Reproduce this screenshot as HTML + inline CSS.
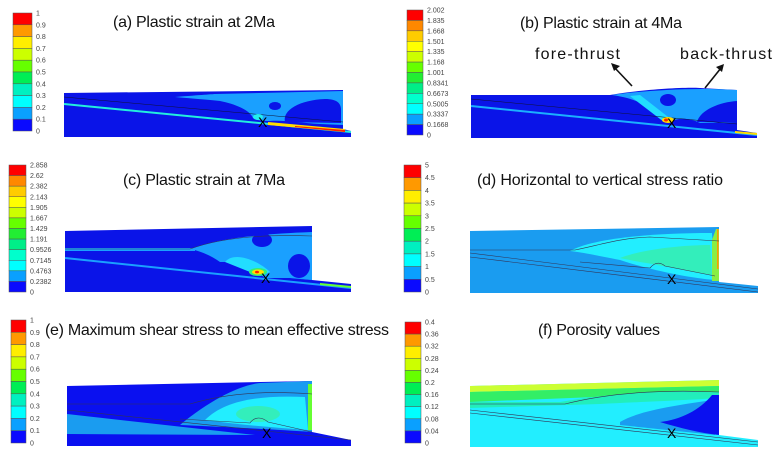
<!DOCTYPE html>
<html><head><meta charset="utf-8"><style>
html,body{margin:0;padding:0;background:#fff;}
svg{display:block;font-family:"Liberation Sans",sans-serif;}
.t{font-size:16px;fill:#111;}
.tk{font-size:7px;fill:#444;}
</style></head><body>
<svg id="fig" width="781" height="456" viewBox="0 0 781 456">
<g id="bars"></g>

<text class="t" x="113" y="27" textLength="162">(a) Plastic strain at 2Ma</text>
<text class="t" x="520" y="28" textLength="162">(b) Plastic strain at 4Ma</text>
<text class="t" x="123" y="185" textLength="162">(c) Plastic strain at 7Ma</text>
<text class="t" x="477" y="185" textLength="246">(d) Horizontal to vertical stress ratio</text>
<text class="t" x="45" y="335" textLength="344">(e) Maximum shear stress to mean effective  stress</text>
<text class="t" x="538" y="335" textLength="122">(f) Porosity values</text>

<text class="t" x="535" y="59" textLength="85">fore-thrust</text>
<text class="t" x="680" y="59" textLength="92">back-thrust</text>
<g stroke="#111" stroke-width="1.6" fill="#111">
<line x1="632" y1="86" x2="614" y2="67"/><polygon points="611,63 620,66 614,71" stroke="none"/>
<line x1="705" y1="88" x2="721" y2="68"/><polygon points="724,64 716,67 722,72" stroke="none"/>
</g>

<g>
<path d="M64,93 L343,90 L343,129 L351,131 L351,137 L64,137 Z" fill="#0a14e8"/>
<path d="M175,97 C200,95 215,94 215,94 L343,91 L343,125 L320,124 C300,123 285,120 270,121 C262,121 255,120 253,118 C250,110 235,104 220,101 C200,99 185,98 175,97 Z" fill="#1aa0ff"/>
<ellipse cx="275" cy="106" rx="6" ry="4" fill="#0a14e8"/>
<path d="M285,122 C282,110 300,100 325,99 C338,99 341,104 341,110 L341,123 Z" fill="#0a14e8"/>
<line x1="64" y1="104" x2="351" y2="132" stroke="#22eedd" stroke-width="2"/>
<line x1="64" y1="97" x2="343" y2="122" stroke="#113" stroke-width="0.5"/>
<ellipse cx="258" cy="117" rx="5" ry="3" fill="#22eeee"/>
<polygon points="268,122 345,129 345,132 268,125" fill="#ffdd00"/>
<polygon points="295,126 345,130 345,132 295,127" fill="#ff2200"/>
<text x="258" y="127" font-size="14" fill="#000">X</text>
</g>

<g>
<path d="M471,95 L610,95 C640,90 680,87 700,88 L737,90 L737,130 L757,133 L757,138 L471,138 Z" fill="#0a14e8"/>
<path d="M612,95 C640,91 690,87 737,90 L737,122 L700,123 C690,118 680,118 675,120 C665,122 660,118 650,110 C640,100 625,97 612,95 Z" fill="#1aa0ff"/>
<path d="M630,96 L640,95 L672,120 L664,122 Z" fill="#22ddff"/>
<ellipse cx="668" cy="100" rx="8" ry="6" fill="#0a14e8"/>
<path d="M697,122 C700,110 720,102 737,101 L737,122 Z" fill="#0a14e8"/>
<line x1="471" y1="106" x2="757" y2="135" stroke="#1ab0ff" stroke-width="2"/>
<line x1="471" y1="99" x2="737" y2="124" stroke="#113" stroke-width="0.5"/>
<ellipse cx="668" cy="120" rx="6" ry="3" fill="#ffdd00"/>
<ellipse cx="666" cy="120" rx="2" ry="1.5" fill="#ff2200"/>
<polygon points="735,131 757,133 757,135 735,133" fill="#ffdd00"/>
<text x="667" y="128" font-size="14" fill="#000">X</text>
</g>

<g>
<path d="M65,231 L312,226 L312,280 L351,284 L351,292 L65,292 Z" fill="#0a14e8"/>
<rect x="65" y="248" width="130" height="3" fill="#1aa0ff"/>
<path d="M190,249 C220,238 260,234 312,232 L312,280 C300,279 290,278 288,278 L265,278 C255,270 245,263 235,262 L220,262 C210,255 200,251 190,249 Z" fill="#1aa0ff"/>
<path d="M225,262 C235,250 260,262 270,272 L260,276 Z" fill="#22ddff"/>
<ellipse cx="262" cy="240" rx="10" ry="7" fill="#0a14e8"/>
<ellipse cx="299" cy="266" rx="11" ry="12" fill="#0a14e8"/>
<line x1="65" y1="258" x2="351" y2="288" stroke="#1aa0ff" stroke-width="2"/>
<path d="M65,249 L190,249 C220,238 260,234 312,236" stroke="#335" stroke-width="0.6" fill="none"/>
<ellipse cx="258" cy="272" rx="9" ry="4" fill="#33ee77"/>
<ellipse cx="258" cy="272" rx="6" ry="2.5" fill="#ffdd00"/>
<ellipse cx="257" cy="272" rx="2" ry="1.3" fill="#ff2200"/>
<polygon points="320,283 351,286 351,288 320,285" fill="#66ff33"/>
<text x="261" y="283" font-size="14" fill="#000">X</text>
</g>

<g>
<path d="M470,231 L719,227 L719,282 L758,286 L758,293 L470,293 Z" fill="#1a9cf0"/>
<path d="M570,251 C590,240 640,233 712,233 L715,280 C690,278 650,270 620,260 C600,256 580,252 570,251 Z" fill="#22eeff"/>
<path d="M620,258 C640,250 680,245 710,245 L712,275 C690,272 660,265 640,262 Z" fill="#33eebb"/>
<path d="M712,240 L716,229 L719,229 L719,281 L712,281 Z" fill="#88ee44"/>
<rect x="717" y="229" width="1.5" height="40" fill="#ff9900"/>
<path d="M470,250 L575,250 C600,245 620,238 650,237 L719,241" stroke="#335" stroke-width="0.6" fill="none"/>
<line x1="470" y1="253" x2="758" y2="289" stroke="#335" stroke-width="0.6"/>
<line x1="470" y1="257" x2="758" y2="292" stroke="#335" stroke-width="0.6"/>
<path d="M580,262 L650,268 C655,262 660,262 665,266 L715,276" stroke="#335" stroke-width="0.6" fill="none"/>
<text x="667" y="284" font-size="14" fill="#000">X</text>
</g>

<g>
<path d="M67,386 L312,381 L312,432 L351,440 L351,446 L67,446 Z" fill="#0a10f0"/>
<polygon points="67,414 255,435 67,434" fill="#1a9cf0"/>
<path d="M180,425 C210,400 240,385 260,383 L312,381 L312,432 C280,430 250,428 180,425 Z" fill="#1a9cf0"/>
<path d="M205,420 C225,400 260,395 305,397 L308,430 C280,428 240,425 205,420 Z" fill="#22eeff"/>
<ellipse cx="258" cy="414" rx="22" ry="8" fill="#33eebb"/>
<rect x="308" y="384" width="4" height="46" fill="#66ff33"/>
<path d="M67,404 L190,404 C220,395 260,390 312,394" stroke="#335" stroke-width="0.6" fill="none"/>
<line x1="67" y1="410" x2="351" y2="440" stroke="#335" stroke-width="0.6"/>
<path d="M180,419 L250,423 C255,416 262,417 268,422 L312,432" stroke="#335" stroke-width="0.6" fill="none"/>
<text x="262" y="438" font-size="14" fill="#000">X</text>
</g>

<g>
<path d="M470,386 L719,380 L719,435 L758,440 L758,447 L470,447 Z" fill="#22eeff"/>
<polygon points="470,386 719,380 719,386 470,392" fill="#ccff33"/>
<polygon points="470,392 719,386 719,392 470,402" fill="#33ee66"/>
<path d="M470,402 L560,402 C600,395 650,390 719,392 L719,398 C690,400 640,402 600,404 L470,408 Z" fill="#22eebb"/>
<path d="M620,422 C640,410 680,405 712,400 L715,435 L620,425 Z" fill="#1a9cf0"/>
<path d="M660,422 C680,420 700,410 712,395 L719,395 L719,435 C700,433 680,428 660,422 Z" fill="#0a10f0"/>
<path d="M470,404 L565,404 C600,395 650,389 719,392" stroke="#335" stroke-width="0.6" fill="none"/>
<line x1="470" y1="410" x2="758" y2="442" stroke="#335" stroke-width="0.6"/>
<line x1="470" y1="413" x2="758" y2="445" stroke="#335" stroke-width="0.6"/>
<text x="667" y="438" font-size="14" fill="#000">X</text>
</g>
</svg>
<script>
const ticksA=["1","0.9","0.8","0.7","0.6","0.5","0.4","0.3","0.2","0.1","0"];
const ticksB=["2.002","1.835","1.668","1.501","1.335","1.168","1.001","0.8341","0.6673","0.5005","0.3337","0.1668","0"];
const ticksC=["2.858","2.62","2.382","2.143","1.905","1.667","1.429","1.191","0.9526","0.7145","0.4763","0.2382","0"];
const ticksD=["5","4.5","4","3.5","3","2.5","2","1.5","1","0.5","0"];
const ticksE=["1","0.9","0.8","0.7","0.6","0.5","0.4","0.3","0.2","0.1","0"];
const ticksF=["0.4","0.36","0.32","0.28","0.24","0.2","0.16","0.12","0.08","0.04","0"];
const colors10=["#ff0000","#ff9900","#ffee00","#ccff00","#66ff00","#00ee55","#00f0c0","#00ffff","#0aa0ff","#0a0aff"];
const colors12=["#ff0000","#ff8800","#ffcc00","#ffff00","#ccff00","#66ff00","#22ee33","#00ee88","#00ffcc","#00ffff","#0aa0ff","#0a0aff"];
const NS="http://www.w3.org/2000/svg";
const g=document.getElementById('bars');
function bar(ticks,cols,x,y0,y1,w,name){
  const n=ticks.length-1,h=(y1-y0)/n;
  for(let i=0;i<n;i++){
    const r=document.createElementNS(NS,'rect');
    r.setAttribute('x',x);r.setAttribute('y',y0+i*h);r.setAttribute('width',w);r.setAttribute('height',h);
    r.setAttribute('fill',cols[i]);r.setAttribute('stroke','#555');r.setAttribute('stroke-width','0.5');
    
    
    g.appendChild(r);
  }
  ticks.forEach((t,i)=>{
    const tx=document.createElementNS(NS,'text');
    tx.setAttribute('x',x+w+4);tx.setAttribute('y',y0+i*h+2.5);tx.setAttribute('class','tk');
    tx.textContent=t;
    
    
    g.appendChild(tx);
  });
}
bar(ticksA,colors10,13,13,131,19,'colorbar-a');
bar(ticksB,colors12,407,10,135,16,'colorbar-b');
bar(ticksC,colors12,9,165,292,17,'colorbar-c');
bar(ticksD,colors10,404,165,292,17,'colorbar-d');
bar(ticksE,colors10,11,320,443,15,'colorbar-e');
bar(ticksF,colors10,405,322,443,16,'colorbar-f');
</script>
</body></html>
